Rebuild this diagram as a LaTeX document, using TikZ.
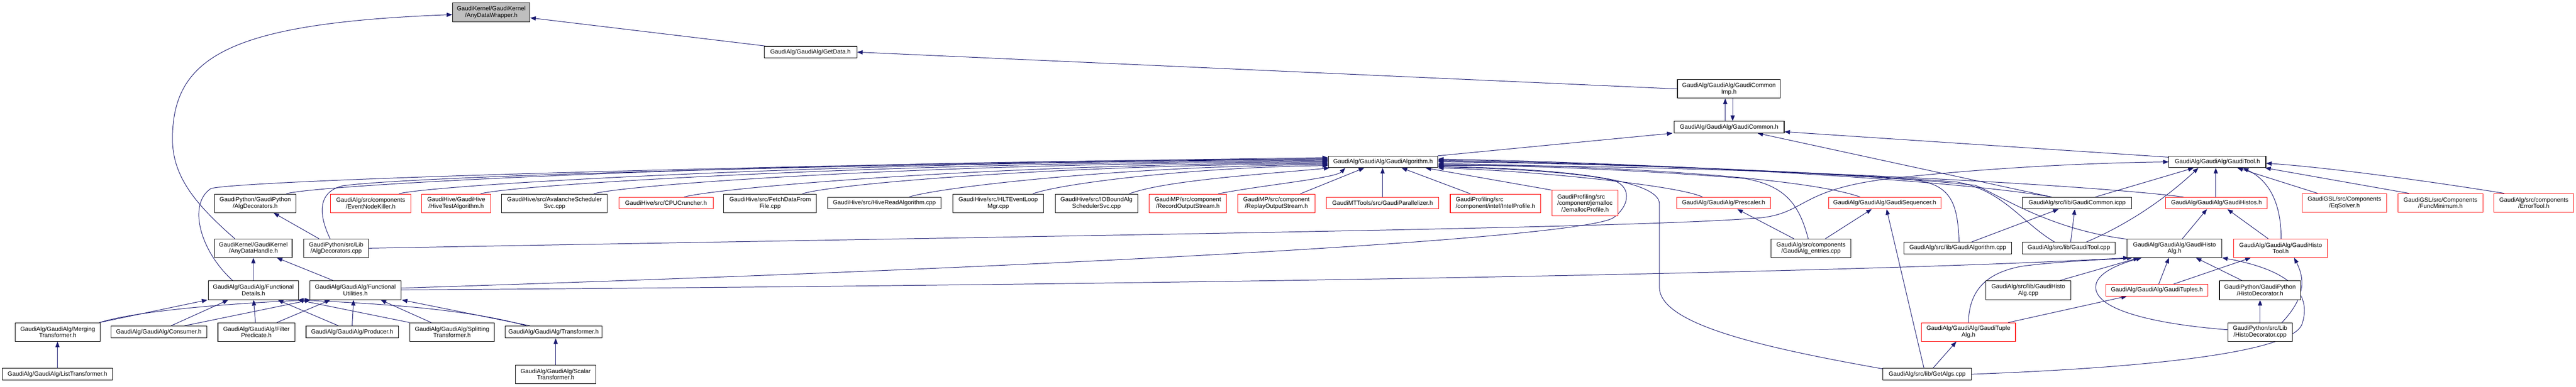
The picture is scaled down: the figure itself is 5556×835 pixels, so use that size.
\documentclass[tikz,border=0pt]{standalone}
\usepackage{fontspec}
\setmainfont{Liberation Sans}
\usetikzlibrary{arrows.meta,calc}
\pgfdeclarelayer{bg}
\pgfsetlayers{bg,main}
\definecolor{edgec}{HTML}{191970}
\definecolor{redc}{HTML}{FF0000}
\definecolor{grayc}{HTML}{BFBFBF}
\newcommand\dnode[7]{%
  \pgfmathsetmacro\dnw{#4-#2}%
  \pgfmathsetmacro\dnh{#5-#3}%
  \pgfmathsetmacro\dncx{(#2+#4)/2}%
  \pgfmathsetmacro\dncy{(#3+#5)/2}%
  \node[#6, minimum width=\dnw pt, minimum height=\dnh pt] (#1) at (\dncx,\dncy) {#7};}
\begin{document}
\begin{tikzpicture}[x=1pt,y=-1pt,
  nd/.style={draw=black, line width=1.2pt, inner sep=0pt, align=center, fill=white,
             font=\fontsize{13}{14}\selectfont},
  rd/.style={nd, draw=redc},
  gd/.style={nd, fill=grayc},
  conn/.style={draw=edgec, line width=1.1pt, -{Triangle[length=12pt,width=9pt]}}]
\useasboundingbox (0,0) rectangle (5556,835);

% ---------- nodes ----------
\dnode{wrap}{976}{6}{1143}{47}{gd}{GaudiKernel/GaudiKernel\\/AnyDataWrapper.h}
\dnode{getdata}{1648}{100}{1848}{125}{nd}{GaudiAlg/GaudiAlg/GetData.h}
\dnode{commonimp}{3618}{172}{3840}{212}{nd}{GaudiAlg/GaudiAlg/GaudiCommon\\Imp.h}
\dnode{common}{3611}{262}{3848}{287}{nd}{GaudiAlg/GaudiAlg/GaudiCommon.h}
\dnode{galg}{2865}{337}{3101}{362}{nd}{GaudiAlg/GaudiAlg/GaudiAlgorithm.h}
\dnode{gtool}{4678}{337}{4887}{362}{nd}{GaudiAlg/GaudiAlg/GaudiTool.h}

\dnode{algdech}{463}{419}{638}{459}{nd}{GaudiPython/GaudiPython\\/AlgDecorators.h}
\dnode{enk}{713}{419}{886}{459}{rd}{GaudiAlg/src/components\\/EventNodeKiller.h}
\dnode{hivetest}{910}{419}{1058}{459}{rd}{GaudiHive/GaudiHive\\/HiveTestAlgorithm.h}
\dnode{aval}{1082}{419}{1310}{459}{nd}{GaudiHive/src/AvalancheScheduler\\Svc.cpp}
\dnode{cpu}{1335}{426}{1538}{451}{rd}{GaudiHive/src/CPUCruncher.h}
\dnode{fetch}{1561}{419}{1761}{459}{nd}{GaudiHive/src/FetchDataFrom\\File.cpp}
\dnode{hiveread}{1785}{426}{2030}{451}{nd}{GaudiHive/src/HiveReadAlgorithm.cpp}
\dnode{hlt}{2055}{419}{2251}{459}{nd}{GaudiHive/src/HLTEventLoop\\Mgr.cpp}
\dnode{iobound}{2276}{419}{2454}{459}{nd}{GaudiHive/src/IOBoundAlg\\SchedulerSvc.cpp}
\dnode{record}{2479}{419}{2645}{459}{rd}{GaudiMP/src/component\\/RecordOutputStream.h}
\dnode{replay}{2670}{419}{2836}{459}{rd}{GaudiMP/src/component\\/ReplayOutputStream.h}
\dnode{para}{2861}{426}{3103}{451}{rd}{GaudiMTTools/src/GaudiParallelizer.h}
\dnode{intel}{3128}{419}{3323}{459}{rd,align=left}{GaudiProfiling/src\\/component/intel/IntelProfile.h}
\dnode{jemalloc}{3347}{411}{3490}{466}{rd,align=left}{GaudiProfiling/src\\/component/jemalloc\\\hspace*{0.64em}/JemallocProfile.h}
\dnode{prescaler}{3616}{426}{3819}{451}{rd}{GaudiAlg/GaudiAlg/Prescaler.h}
\dnode{seq}{3944}{426}{4186}{451}{rd}{GaudiAlg/GaudiAlg/GaudiSequencer.h}
\dnode{commoncpp}{4362}{426}{4598}{451}{nd}{GaudiAlg/src/lib/GaudiCommon.icpp}
\dnode{histos}{4671}{426}{4890}{451}{rd}{GaudiAlg/GaudiAlg/GaudiHistos.h}
\dnode{eqsolver}{4965}{418}{5148}{458}{rd}{GaudiGSL/src/Components\\/EqSolver.h}
\dnode{funcmin}{5172}{418}{5355}{458}{rd}{GaudiGSL/src/Components\\/FuncMinimum.h}
\dnode{errortool}{5379}{418}{5551}{458}{rd}{GaudiAlg/src/components\\/ErrorTool.h}

\dnode{anyhandle}{463}{516}{630}{556}{nd}{GaudiKernel/GaudiKernel\\/AnyDataHandle.h}
\dnode{algdeccpp}{655}{516}{795}{556}{nd}{GaudiPython/src/Lib\\/AlgDecorators.cpp}
\dnode{entries}{3820}{516}{3992}{556}{nd}{GaudiAlg/src/components\\/GaudiAlg\_entries.cpp}
\dnode{galgcpp}{4106}{523}{4339}{548}{nd}{GaudiAlg/src/lib/GaudiAlgorithm.cpp}
\dnode{gtoolcpp}{4362}{523}{4562}{548}{nd}{GaudiAlg/src/lib/GaudiTool.cpp}
\dnode{histoalg}{4588}{516}{4792}{556}{nd}{GaudiAlg/GaudiAlg/GaudiHisto\\Alg.h}
\dnode{histotool}{4818}{516}{5020}{556}{rd}{GaudiAlg/GaudiAlg/GaudiHisto\\Tool.h}

\dnode{fdetails}{449}{606}{644}{647}{nd}{GaudiAlg/GaudiAlg/Functional\\Details.h}
\dnode{futil}{668}{606}{865}{647}{nd}{GaudiAlg/GaudiAlg/Functional\\Utilities.h}
\dnode{histoalgcpp}{4283}{606}{4466}{647}{nd}{GaudiAlg/src/lib/GaudiHisto\\Alg.cpp}
\dnode{tuples}{4542}{614}{4762}{639}{rd}{GaudiAlg/GaudiAlg/GaudiTuples.h}
\dnode{histodech}{4787}{606}{4962}{647}{nd}{GaudiPython/GaudiPython\\/HistoDecorator.h}

\dnode{merging}{33}{697}{216}{737}{nd}{GaudiAlg/GaudiAlg/Merging\\Transformer.h}
\dnode{consumer}{239}{704}{446}{730}{nd}{GaudiAlg/GaudiAlg/Consumer.h}
\dnode{filter}{470}{697}{636}{737}{nd}{GaudiAlg/GaudiAlg/Filter\\Predicate.h}
\dnode{producer}{660}{704}{859}{730}{nd}{GaudiAlg/GaudiAlg/Producer.h}
\dnode{splitting}{884}{697}{1066}{737}{nd}{GaudiAlg/GaudiAlg/Splitting\\Transformer.h}
\dnode{transformer}{1090}{704}{1298}{730}{nd}{GaudiAlg/GaudiAlg/Transformer.h}
\dnode{tuplealg}{4144}{697}{4347}{737}{rd}{GaudiAlg/GaudiAlg/GaudiTuple\\Alg.h}
\dnode{histodeccpp}{4805}{697}{4944}{737}{nd}{GaudiPython/src/Lib\\/HistoDecorator.cpp}

\dnode{listtr}{5}{795}{243}{821}{nd}{GaudiAlg/GaudiAlg/ListTransformer.h}
\dnode{scalar}{1112}{788}{1285}{828}{nd}{GaudiAlg/GaudiAlg/Scalar\\Transformer.h}
\dnode{getalgs}{4061}{795}{4252}{821}{nd}{GaudiAlg/src/lib/GetAlgs.cpp}

% ---------- connectors ----------
\begin{pgfonlayer}{bg}
% top part
\draw[conn] ($(getdata.north west)+(4,0)$) -- ($(wrap.east)+(0,12)$);
\draw[conn] ($(anyhandle.north)+(-40,0)$) .. controls (420,440) and (372,380) .. (372,300)
   .. controls (372,120) and (500,50) .. ($(wrap.west)+(0,5)$);
\draw[conn] (commonimp.west) -- (getdata.east);
\draw[conn] ($(common.north)+(-8.5,0)$) -- ($(commonimp.south)+(-8,0)$);
\draw[conn] ($(commonimp.south)+(8,0)$) -- ($(common.north)+(7.5,0)$);
\draw[conn] (galg.north east) -- ($(common.south west)+(-3,0)$);
\draw[conn] ($(gtool.north west)+(0,3)$) -- ($(common.east)+(0,10)$);
\draw[conn] ($(commoncpp.north)+(-55,0)$) -- ($(common.south east)+(-58,0)$);

% into GaudiTool.h
\draw[conn] (algdeccpp.east) .. controls (2500,505) and (3550,492) .. (3800,470)
   .. controls (3900,458) and (3880,405) .. (4100,383)
   .. controls (4300,362) and (4500,352) .. (gtool.west);
\draw[conn] ($(commoncpp.north)+(39,0)$) -- ($(gtool.south west)+(54,0)$);
\draw[conn] ($(gtoolcpp.north)+(38,0)$) .. controls (4600,480) and (4680,420) .. ($(gtool.south west)+(64,0)$);
\draw[conn] ($(histos.north)+(-1.5,0)$) -- ($(gtool.south)+(-3.5,0)$);
\draw[conn] ($(eqsolver.north)+(-58,0)$) -- ($(gtool.south)+(43,0)$);
\draw[conn] ($(histotool.north)+(1,0)$) .. controls (4920,440) and (4895,390) .. ($(gtool.south)+(55,0)$);
\draw[conn] ($(funcmin.north)+(-68,0)$) -- ($(gtool.south east)+(-2,0)$);
\draw[conn] ($(errortool.north)+(-64,0)$) .. controls (5200,385) and (5000,360) .. ($(gtool.east)+(0,3)$);

% into GaudiAlgorithm.h from the right
\draw[conn] ($(prescaler.north)+(-45.5,0)$) .. controls (3620,400) and (3300,368) .. (galg.south east);
\draw[conn] ($(seq.north)+(-53,0)$) .. controls (3900,385) and (3500,358) .. ($(galg.east)+(0,4)$);
\draw[conn] ($(entries.north)+(-6,0)$) .. controls (3880,440) and (3850,400) .. (3760,385)
   .. controls (3500,365) and (3300,358) .. ($(galg.east)+(0,6)$);
\draw[conn] ($(galgcpp.north)+(3,0)$) .. controls (4222,440) and (4210,395) .. (4120,388)
   .. controls (3800,365) and (3400,352) .. (galg.east);
\draw[conn] ($(gtoolcpp.north)+(-31,0)$) .. controls (4360,480) and (4320,410) .. (4220,393)
   .. controls (3900,368) and (3400,352) .. ($(galg.east)+(0,-2)$);
\draw[conn] ($(histoalg.north west)+(0,1)$) .. controls (4420,495) and (4320,425) .. (4260,400)
   .. controls (4000,372) and (3400,350) .. ($(galg.east)+(0,-4)$);
\draw[conn] ($(histos.north west)+(39,0)$) .. controls (4500,398) and (3700,355) .. ($(galg.east)+(0,8)$);
\draw[conn] ($(commoncpp.north)+(-55,0)$) .. controls (4200,385) and (3500,350) .. ($(galg.east)+(0,-6)$);
\draw[conn] ($(getalgs.north west)+(0,2)$) .. controls (3800,750) and (3579,700) .. (3579,620)
   -- (3579,440) .. controls (3579,395) and (3420,365) .. ($(galg.east)+(0,10)$);
\draw[conn] ($(futil.east)+(0,-4.5)$) .. controls (2500,570) and (3420,510) .. (3480,470)
   .. controls (3520,440) and (3515,400) .. (3480,390)
   .. controls (3400,370) and (3200,362) .. ($(galg.east)+(0,11)$);

% into GaudiAlgorithm.h from the left
\draw[conn] ($(fdetails.north west)+(53,0)$) .. controls (430,540) and (405,440) .. (455,407)
   .. controls (520,390) and (1500,358) .. ($(galg.west)+(0,-9)$);
\draw[conn] ($(algdeccpp.north)+(-13,0)$) .. controls (690,470) and (680,415) .. (740,401)
   .. controls (900,380) and (1800,355) .. ($(galg.west)+(0,-7)$);
\draw[conn] ($(algdech.north east)+(-21,0)$) .. controls +(60,-20) and +(-1200,3) .. ($(galg.west)+(0,-6)$);
\draw[conn] ($(enk.north east)+(-26,0)$) .. controls +(60,-18) and +(-1100,3) .. ($(galg.west)+(0,-4)$);
\draw[conn] ($(hivetest.north east)+(-22,0)$) .. controls +(60,-18) and +(-1000,3) .. ($(galg.west)+(0,-2)$);
\draw[conn] ($(aval.north east)+(-30,0)$) .. controls +(60,-18) and +(-900,3) .. (galg.west);
\draw[conn] ($(cpu.north east)+(-63,0)$) .. controls +(60,-18) and +(-750,3) .. ($(galg.west)+(0,2)$);
\draw[conn] ($(fetch.north east)+(-31,0)$) .. controls +(60,-20) and +(-600,3) .. ($(galg.west)+(0,4)$);
\draw[conn] ($(hiveread.north east)+(-70,0)$) .. controls +(60,-20) and +(-450,3) .. ($(galg.west)+(0,6)$);
\draw[conn] ($(hlt.north east)+(-24,0)$) .. controls +(60,-22) and +(-300,4) .. ($(galg.west)+(0,8)$);
\draw[conn] ($(iobound.north east)+(-19,0)$) .. controls +(80,-30) and +(-120,12) .. ($(galg.south west)+(3,0)$);
\draw[conn] ($(record.north east)+(-18,0)$) .. controls (2720,400) and (2880,385) .. ($(galg.south west)+(37,0)$);
\draw[conn] ($(replay.north east)+(-32,0)$) -- ($(galg.south west)+(78,0)$);
\draw[conn] (para.north) -- (para.north |- galg.south);
\draw[conn] ($(intel.north west)+(44,0)$) -- ($(galg.south)+(40,0)$);
\draw[conn] (jemalloc.north west) -- ($(galg.south east)+(-27,0)$);

% AlgDecorators
\draw[conn] ($(algdeccpp.north)+(-37,0)$) -- ($(algdech.south)+(39.5,0)$);

% Functional
\draw[conn] (fdetails.north) -- (anyhandle.south);
\draw[conn] ($(futil.north)+(-48.5,0)$) -- ($(anyhandle.south)+(50.5,0)$);
\draw[conn] ($(merging.north east)+(-2,0)$) -- ($(fdetails.south west)+(-1,0)$);
\draw[conn] ($(merging.north east)+(-2,0)$) .. controls (300,670) and (500,655) .. ($(futil.south west)+(2,0)$);
\draw[conn] ($(consumer.north)+(26.5,0)$) -- ($(fdetails.south west)+(44,0)$);
\draw[conn] ($(consumer.north)+(55.5,0)$) -- ($(futil.south west)+(2,0)$);
\draw[conn] ($(filter.north)+(-2,0)$) -- ($(fdetails.south)+(0.5,0)$);
\draw[conn] ($(filter.north)+(44,0)$) -- ($(futil.south west)+(45,0)$);
\draw[conn] ($(producer.north)+(-29.5,0)$) -- ($(fdetails.south)+(52.5,0)$);
\draw[conn] (producer.north) -- ($(futil.south)+(-4,0)$);
\draw[conn] (splitting.north west) -- ($(fdetails.south east)+(-2,0)$);
\draw[conn] ($(splitting.north)+(-45,0)$) -- ($(futil.south)+(54.5,0)$);
\draw[conn] ($(transformer.north)+(-59,0)$) .. controls (1000,665) and (800,655) .. ($(fdetails.south east)+(-2,0)$);
\draw[conn] ($(transformer.north)+(-51,0)$) -- ($(futil.south east)+(1,0)$);
\draw[conn] (scalar.north) -- (scalar.north |- transformer.south);
\draw[conn] (listtr.north) -- (listtr.north |- merging.south);

% GaudiHisto / Tuples
\draw[conn] ($(entries.north)+(-37,0)$) -- ($(prescaler.south)+(29.5,0)$);
\draw[conn] ($(entries.north)+(31,0)$) -- ($(seq.south)+(-28,0)$);
\draw[conn] ($(galgcpp.north)+(30,0)$) -- ($(commoncpp.south)+(-40,0)$);
\draw[conn] ($(gtoolcpp.north)+(4,0)$) -- ($(commoncpp.south)+(-5,0)$);
\draw[conn] ($(histoalg.north)+(17,0)$) -- ($(histos.south)+(-20.5,0)$);
\draw[conn] ($(histotool.north)+(-27,0)$) -- ($(histos.south)+(23.5,0)$);
\draw[conn] ($(futil.east)+(0,-0.5)$) .. controls (2500,615) and (4000,590) .. ($(histoalg.south west)+(4,0)$);
\draw[conn] (tuplealg.north) .. controls (4247,630) and (4280,590) .. (4360,575)
   .. controls (4450,563) and (4560,560) .. ($(histoalg.south west)+(12,0)$);
\draw[conn] ($(histoalgcpp.north east)+(-23,0)$) -- ($(histoalg.south west)+(26,0)$);
\draw[conn] ($(tuples.north)+(4,0)$) -- ($(histoalg.south)+(-12,0)$);
\draw[conn] ($(tuples.north)+(36,0)$) -- ($(histotool.south west)+(37,0)$);
\draw[conn] ($(histodech.north)+(-39.5,0)$) -- ($(histoalg.south)+(46,0)$);
\draw[conn] (histodeccpp.north) -- (histodech.south);
\draw[conn] ($(histodeccpp.north east)+(-23,0)$) .. controls (4975,640) and (4970,600) .. ($(histotool.south)+(29,0)$);
\draw[conn] ($(histodeccpp.west)+(0,-5)$) .. controls (4650,700) and (4520,670) .. (4520,620)
   .. controls (4520,590) and (4570,570) .. ($(histoalg.south west)+(32,0)$);
\draw[conn] ($(tuplealg.north east)+(-16,0)$) -- ($(tuples.south west)+(46,0)$);
\draw[conn] ($(getalgs.north)+(13,0)$) -- ($(tuplealg.south)+(-26,0)$);
\draw[conn] ($(getalgs.north)+(-7,0)$) -- ($(seq.south)+(4,0)$);
\draw[conn] (getalgs.east) .. controls (4600,795) and (4940,765) .. (4965,700)
   .. controls (4985,640) and (4950,585) .. (histoalg.south east);
\end{pgfonlayer}
\end{tikzpicture}
\end{document}
